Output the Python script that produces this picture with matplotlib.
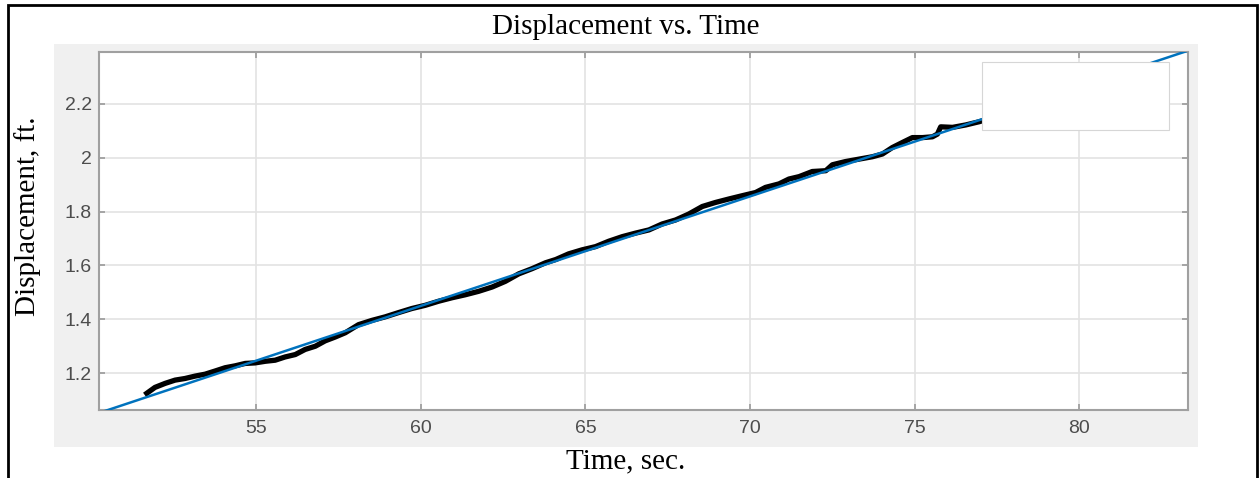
import matplotlib
matplotlib.use("Agg")
import matplotlib.pyplot as plt
from matplotlib.patches import Rectangle
import numpy as np

time_s = [51.68, 51.93, 52.24, 52.54, 52.84, 53.15, 53.45, 53.76, 54.06, 54.36,
          54.67, 54.97, 55.28, 55.58, 55.88, 56.19, 56.49, 56.80, 57.10, 57.40,
          57.71, 58.11, 58.52, 58.92, 59.33, 59.73, 60.14, 60.54, 60.95, 61.35,
          61.76, 62.17, 62.57, 62.98, 63.38, 63.79, 64.10, 64.49, 64.90, 65.31,
          65.71, 66.12, 66.52, 66.93, 67.33, 67.74, 68.14, 68.55, 68.95, 69.36,
          69.76, 70.17, 70.47, 70.88, 71.18, 71.49, 71.89, 72.30, 72.50, 72.90,
          73.31, 73.72, 74.02, 74.32, 74.63, 74.93, 75.24, 75.54, 75.69, 75.79,
          76.15, 76.55, 76.96, 77.40, 77.80]
disp_ft = [1.125, 1.147, 1.162, 1.174, 1.180, 1.189, 1.196, 1.208, 1.220, 1.227,
           1.236, 1.238, 1.244, 1.248, 1.260, 1.269, 1.288, 1.300, 1.320, 1.334,
           1.350, 1.380, 1.396, 1.409, 1.425, 1.440, 1.452, 1.467, 1.480, 1.491,
           1.504, 1.520, 1.541, 1.569, 1.588, 1.610, 1.622, 1.643, 1.658, 1.670,
           1.690, 1.707, 1.720, 1.732, 1.754, 1.769, 1.791, 1.819, 1.834, 1.847,
           1.859, 1.871, 1.890, 1.903, 1.921, 1.930, 1.949, 1.952, 1.974, 1.986,
           1.995, 2.004, 2.014, 2.038, 2.057, 2.075, 2.075, 2.078, 2.088, 2.115,
           2.113, 2.122, 2.134, 2.150, 2.160]

# linear fit (slope, intercept)
fit_slope = 0.0407
fit_intercept = -0.9924
fit_range = [50.0, 84.0]

x_ticks = [55, 60, 65, 70, 75, 80]
y_ticks = [1.2, 1.4, 1.6, 1.8, 2.0, 2.2]
y_ticklabels = ["1.2", "1.4", "1.6", "1.8", "2", "2.2"]

W, H = 1259, 478
fig = plt.figure(figsize=(W / 100, H / 100), dpi=100)
fig.patch.set_facecolor("white")

def fx(px):
    return px / W

def fy(py):
    return 1 - py / H

# outer black frame
fig.patches.append(Rectangle((fx(8), -0.05), fx(1257) - fx(8), fy(5) + 0.05,
                             transform=fig.transFigure, fill=False,
                             edgecolor="black", linewidth=2, zorder=-2))
# grey figure panel
fig.patches.append(Rectangle((fx(54), fy(447)), fx(1198) - fx(54), fy(44) - fy(447),
                             transform=fig.transFigure, facecolor="#F0F0F0",
                             edgecolor="none", zorder=-2))

ax = fig.add_axes([fx(99), fy(410), fx(1188) - fx(99), fy(52) - fy(410)])
ax.set_zorder(1)
ax.set_facecolor("white")

ax.plot(time_s, disp_ft, color="black", linewidth=3.8, zorder=3)
fx_line = np.array(fit_range)
ax.plot(fx_line, fit_slope * fx_line + fit_intercept, color="#0072BD",
        linewidth=1.8, zorder=4)

ax.set_xlim(50.23, 83.3)
ax.set_ylim(1.063, 2.393)
ax.set_xticks(x_ticks)
ax.set_yticks(y_ticks)
ax.set_yticklabels(y_ticklabels)
ax.grid(True, color="#E3E3E3", linewidth=1.2)
ax.set_axisbelow(True)
for s in ax.spines.values():
    s.set_color("#A0A0A0")
    s.set_linewidth(1.5)
ax.tick_params(direction="in", length=4, width=1.3, color="#A0A0A0",
               top=True, right=True, labelsize=14, labelcolor="#4D4D4D")
ax.tick_params(axis="x", pad=7)
ax.tick_params(axis="y", pad=5)
for lab in ax.get_xticklabels() + ax.get_yticklabels():
    lab.set_family("Liberation Sans")

# empty legend box
ax.add_patch(Rectangle((0.811, 0.782), 0.172, 0.19, transform=ax.transAxes,
                       facecolor="white", edgecolor="#D6D6D6", linewidth=0.8,
                       zorder=10))

fig.text(fx(626), fy(27), "Displacement vs. Time", family="Liberation Serif",
         fontsize=21, ha="center", va="center")
fig.text(fx(626), fy(461), "Time, sec.", family="Liberation Serif",
         fontsize=21, ha="center", va="center")
fig.text(fx(28), fy(216), "Displacement, ft.", family="Liberation Serif",
         fontsize=21, ha="center", va="center", rotation=90)

fig.savefig("out.png", dpi=100)
